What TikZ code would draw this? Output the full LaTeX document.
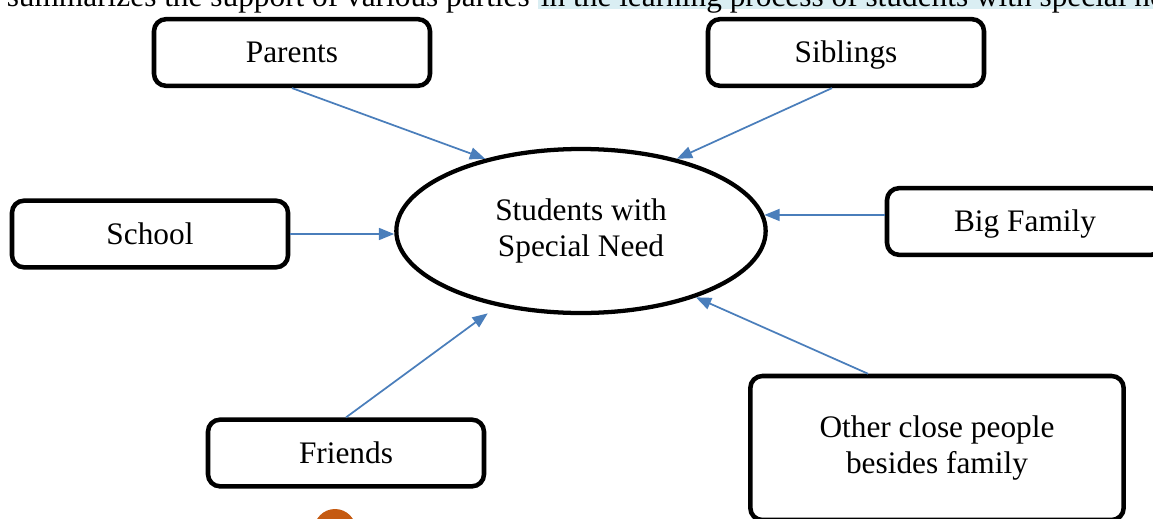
\documentclass[tikz,border=0pt]{standalone}
\usepackage{fontspec}
\setmainfont{Liberation Serif}
\usetikzlibrary{arrows.meta,shapes.geometric,calc}
\definecolor{linkblue}{HTML}{4A7EBB}
\definecolor{hilite}{HTML}{DAEEF3}
\definecolor{dotorange}{HTML}{C55A11}
\begin{document}
\begin{tikzpicture}[x=0.75pt, y=-0.75pt, >={Triangle[length=11.5pt,width=9pt]},
  font=\fontsize{23.5}{27}\selectfont,
  main node/.style={ellipse, draw, line width=3.2pt, minimum width=277pt, minimum height=123pt, align=center},
  box node/.style={rectangle, rounded corners=9pt, draw, line width=3.4pt, minimum width=207pt, minimum height=50pt, align=center},
  one line/.style={text height=17pt, text depth=2pt},
  link/.style={->, draw=linkblue, line width=1.3pt}]

          \useasboundingbox (0,0) rectangle (1153,518);
          \clip (0,0) rectangle (1153,518);

          % caption line cut at the top
          \node[anchor=base east, inner sep=0pt] (c1) at (530,6) {summarizes the support of various parties};
          \node[anchor=base west, fill=hilite, inner xsep=2pt, inner ysep=0pt, text depth=2pt] (c2) at (538,6) {in the learning process of students with special needs};

          \node[main node] (0) at (581,231) {Students with\\Special Need};
          \node[box node, one line] (1) at (292,52.5) {Parents};
          \node[box node, one line] (2) at (846,52.5) {Siblings};
          \node[box node, one line] (3) at (150,234) {School};
          \node[box node, one line] (4) at (1025,221.5) {Big Family};
          \node[box node, one line] (5) at (346,453) {Friends};
          \node[box node, minimum width=280pt, minimum height=108pt] (6) at (937,448) {Other close people\\besides family};

          \draw[link] (1.south) -- (0.143);
          \draw[link] ($(2.south)+(-14,0)$) -- (0.37);
          \draw[link] (3.east) -- (3.east -| 0.west);
          \draw[link] (0.5 -| 4.west) -- (0.5);
          \draw[link, shorten >=9pt] (5.north) -- (0.-138);
          \draw[link] ($(6.north)+(-69,0)$) -- (0.-30);

          \fill[dotorange] (335,530) circle[radius=15.75pt];
        \end{tikzpicture}
\end{document}
